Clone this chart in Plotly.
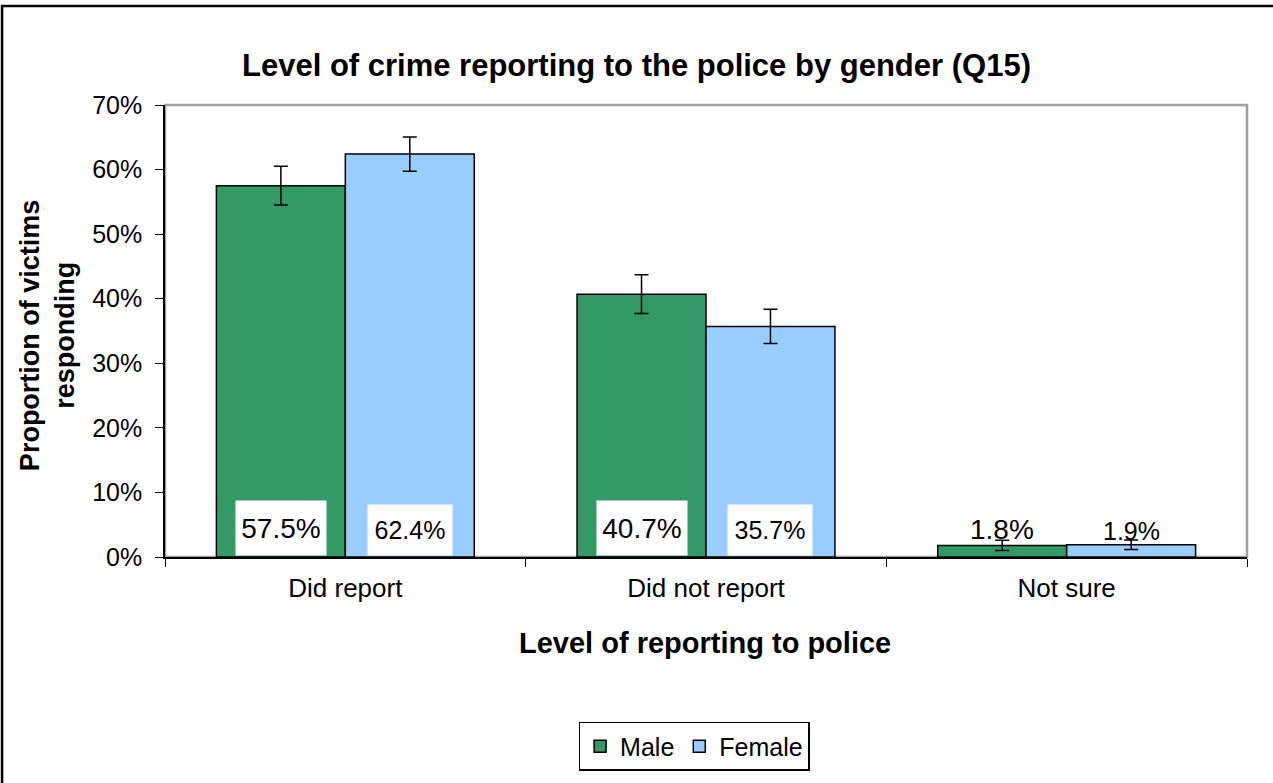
import plotly.graph_objects as go

categories = ["Did report", "Did not report", "Not sure"]
male = [57.5, 40.7, 1.8]
female = [62.4, 35.7, 1.9]
male_err = [3.0, 3.0, 0.8]
female_err = [2.65, 2.65, 0.75]
y_ticks = [0, 10, 20, 30, 40, 50, 60, 70]

GREEN = "#339966"
BLUE = "#99ccff"
FONT = "Liberation Sans, Arial, sans-serif"

bargap = 0.285
half = (1 - bargap) / 4  # offset of each bar centre from the category centre

fig = go.Figure()
fig.add_trace(go.Bar(x=categories, y=male, name="Male",
                     marker=dict(color=GREEN, line=dict(color="black", width=1.5)),
                     error_y=dict(type="data", array=male_err, color="black", thickness=1.5, width=7)))
fig.add_trace(go.Bar(x=categories, y=female, name="Female",
                     marker=dict(color=BLUE, line=dict(color="black", width=1.5)),
                     error_y=dict(type="data", array=female_err, color="black", thickness=1.5, width=7)))

# data labels: white boxes at the foot of the bars, above the bar when the bar is tiny
for i in range(len(categories)):
    for vals, off, size, w, h in [(male, -half, 28, 88, 52), (female, half, 25, 82, 48)]:
        v = vals[i]
        if v > 10:
            fig.add_annotation(x=i + off, y=0, xref="x", yref="y", text=f"{v}%",
                               yanchor="bottom", yshift=1, showarrow=False,
                               bgcolor="white", width=w, height=h,
                               font=dict(size=size, color="black", family=FONT))
        else:
            fig.add_annotation(x=i + off, y=v, xref="x", yref="y", text=f"{v}%",
                               yanchor="bottom", yshift=-2, showarrow=False,
                               font=dict(size=size, color="black", family=FONT))

# axis titles
fig.add_annotation(x=-0.109, y=0.491, xref="paper", yref="paper", textangle=-90,
                   text="<b>Proportion of victims<br>responding</b>", showarrow=False,
                   xanchor="center", yanchor="middle", font=dict(size=27, family=FONT))
fig.add_annotation(x=0.499, y=-0.19, xref="paper", yref="paper",
                   text="<b>Level of reporting to police</b>", showarrow=False,
                   xanchor="center", yanchor="middle", font=dict(size=29, family=FONT))

# plot area frame (grey) and outer chart border
fig.add_shape(type="rect", xref="paper", yref="paper", x0=0, x1=1, y0=0, y1=1,
              line=dict(color="#a0a0a0", width=2.5), layer="below")
fig.add_shape(type="rect", xref="paper", yref="paper", x0=-0.1506, x1=1.1, y0=-0.6, y1=1.219,
              line=dict(color="black", width=2.5))

fig.update_layout(
    width=1273, height=783,
    margin=dict(l=165, r=26, t=105, b=226),
    paper_bgcolor="white", plot_bgcolor="white",
    barmode="group", bargap=bargap, bargroupgap=0,
    font=dict(family=FONT, color="black", size=20),
    title=dict(text="<b>Level of crime reporting to the police by gender (Q15)</b>",
               x=0.5, xanchor="center", y=0.917, yanchor="middle",
               font=dict(size=31, family=FONT)),
    showlegend=True,
    legend=dict(orientation="h", x=0.489, xanchor="center", y=-0.365, yanchor="top",
                bordercolor="black", borderwidth=1.5, font=dict(size=25),
                traceorder="normal"),
    xaxis=dict(showline=True, linecolor="black", linewidth=1.5,
               ticks="outside", tickson="boundaries", ticklen=8, tickcolor="black",
               tickfont=dict(size=26), ticklabelstandoff=7, showgrid=False),
    yaxis=dict(range=[0, 70], tickvals=y_ticks, ticktext=[f"{t}%" for t in y_ticks],
               showline=True, linecolor="black", linewidth=1.5,
               ticks="outside", ticklen=8, tickcolor="black",
               tickfont=dict(size=25), ticklabelstandoff=8, showgrid=False, zeroline=False),
)

fig.write_html("out.html", config={"displayModeBar": False},
               post_script="document.body.style.margin='0';document.body.style.overflow='hidden';")
